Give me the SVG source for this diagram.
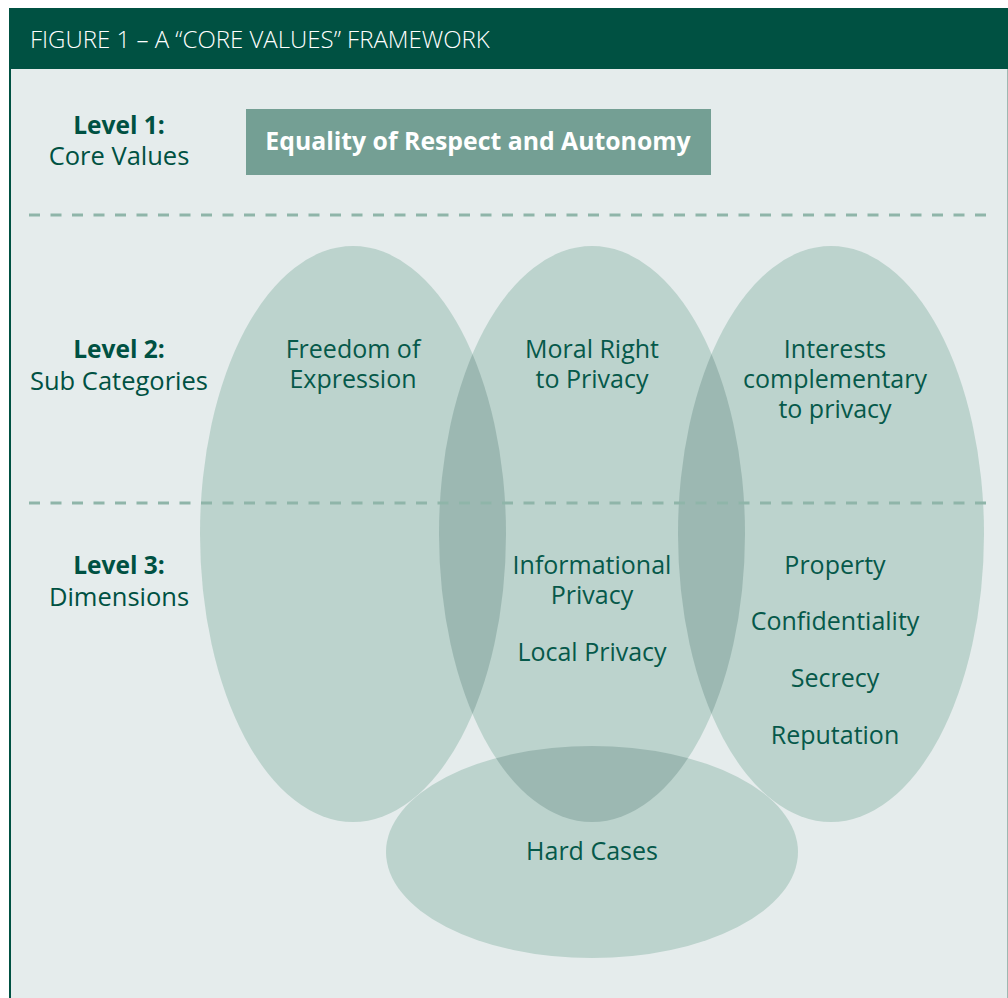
<svg xmlns="http://www.w3.org/2000/svg" width="1008" height="998" viewBox="0 0 1008 998">
<style>
.hdr{font-family:"Open Sans","Liberation Sans",sans-serif;font-size:24px;fill:#ffffff}
.lvl{font-family:"Open Sans","Liberation Sans",sans-serif;font-size:25.5px;fill:#005142;text-anchor:middle}
.b{font-weight:bold;font-size:24.5px}
.lab{font-family:"Open Sans","Liberation Sans",sans-serif;font-size:25px;fill:#06594a;text-anchor:middle}
.ell{fill:#bcd3cd}
.ov{fill:#9cb8b2}
.dash{stroke:#8fb5a9;stroke-width:3;stroke-dasharray:11 10.5;fill:none}
</style>
<defs>
<clipPath id="cL"><ellipse cx="353" cy="534" rx="153" ry="288"/></clipPath>
<clipPath id="cM"><ellipse cx="592" cy="534" rx="153" ry="288"/></clipPath>
<clipPath id="cR"><ellipse cx="831" cy="534" rx="153" ry="288"/></clipPath>
</defs>
<rect x="0" y="0" width="1008" height="998" fill="#ffffff"/>
<rect x="9" y="69" width="999" height="929" fill="#e5ecec"/>
<line x1="10" y1="69" x2="10" y2="998" stroke="#005142" stroke-width="2"/>
<line x1="1007.5" y1="69" x2="1007.5" y2="998" stroke="#9fb8b2" stroke-width="1"/>
<g id="header">
<rect x="9" y="8" width="999" height="61" fill="#005142"/>
<text class="hdr" x="30" y="48" font-weight="300">FIGURE 1 – A “CORE VALUES” FRAMEWORK</text>
</g>
<g id="level-labels">
<text class="lvl" x="119" y="134"><tspan class="b">Level 1:</tspan><tspan x="119" y="165">Core Values</tspan></text>
<text class="lvl" x="119" y="358"><tspan class="b">Level 2:</tspan><tspan x="119" y="390">Sub Categories</tspan></text>
<text class="lvl" x="119" y="574"><tspan class="b">Level 3:</tspan><tspan x="119" y="606">Dimensions</tspan></text>
</g>
<g id="core-values">
<rect x="246" y="109" width="465" height="66" fill="#749f94"/>
<text x="478" y="150" font-family="'Open Sans','Liberation Sans',sans-serif" font-size="24.8" font-weight="bold" fill="#ffffff" text-anchor="middle">Equality of Respect and Autonomy</text>
</g>
<g id="ellipses">
<ellipse id="freedom" class="ell" cx="353" cy="534" rx="153" ry="288"/>
<ellipse id="moral" class="ell" cx="592" cy="534" rx="153" ry="288"/>
<ellipse id="interests" class="ell" cx="831" cy="534" rx="153" ry="288"/>
<ellipse id="hard" class="ell" cx="592" cy="852" rx="206" ry="106"/>
<g clip-path="url(#cL)"><ellipse class="ov" cx="592" cy="534" rx="153" ry="288"/></g>
<g clip-path="url(#cR)"><ellipse class="ov" cx="592" cy="534" rx="153" ry="288"/></g>
<g clip-path="url(#cM)"><ellipse class="ov" cx="592" cy="852" rx="206" ry="106"/></g>
</g>
<g id="dividers">
<line class="dash" x1="29" y1="215" x2="990" y2="215"/>
<line class="dash" x1="29" y1="503" x2="990" y2="503"/>
</g>
<g id="labels">
<text class="lab" x="353" y="358">Freedom of<tspan x="353" y="388">Expression</tspan></text>
<text class="lab" x="592" y="358">Moral Right<tspan x="592" y="388">to Privacy</tspan></text>
<text class="lab" x="835" y="358">Interests<tspan x="835" y="388">complementary</tspan><tspan x="835" y="418">to privacy</tspan></text>
<text class="lab" x="592" y="574">Informational<tspan x="592" y="604">Privacy</tspan></text>
<text class="lab" x="592" y="661">Local Privacy</text>
<text class="lab" x="835" y="574">Property</text>
<text class="lab" x="835" y="630">Confidentiality</text>
<text class="lab" x="835" y="687">Secrecy</text>
<text class="lab" x="835" y="744">Reputation</text>
<text class="lab" x="592" y="860">Hard Cases</text>
</g>
</svg>
